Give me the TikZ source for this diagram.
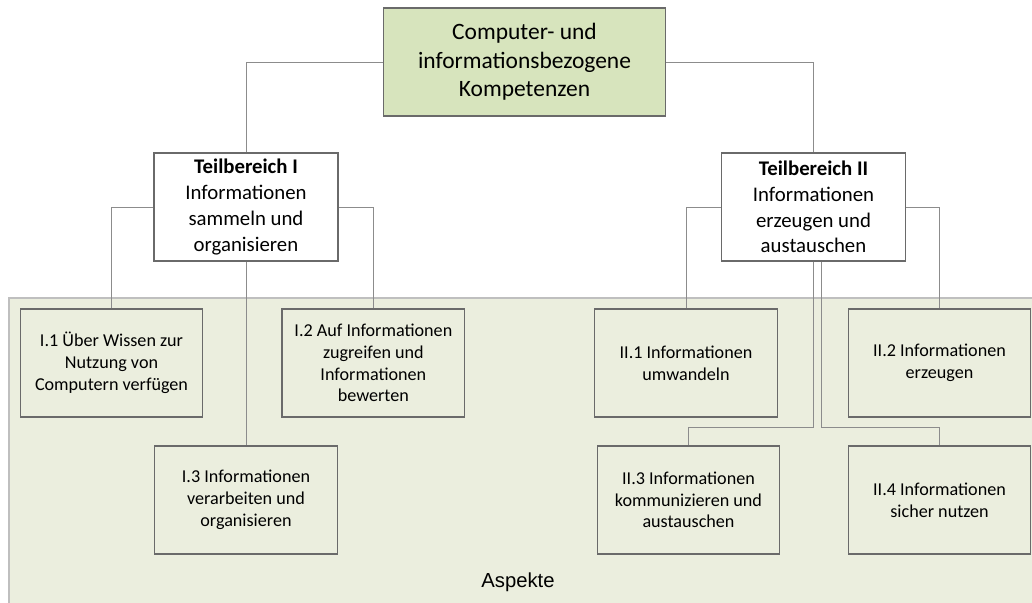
\documentclass[tikz,border=0pt]{standalone}
\usepackage{fontspec}
\setmainfont{Carlito}
\newfontfamily\arialfont{Liberation Sans}
\usetikzlibrary{positioning}
\definecolor{kompgreen}{HTML}{D7E4BD}
\definecolor{aspektfill}{HTML}{EBEEDE}
\definecolor{aspektrand}{HTML}{BFBFBF}
\definecolor{boxrand}{HTML}{6A6A6A}
\definecolor{linkgray}{HTML}{8C8C8C}

\begin{document}
\begin{tikzpicture}[x=0.75pt,y=-0.75pt,
  root/.style={draw=boxrand,fill=kompgreen,line width=0.9pt,minimum width=212pt,minimum height=81pt,align=center,font=\fontsize{17.6}{21.5}\selectfont},
  area/.style={draw=boxrand,fill=white,line width=0.9pt,minimum width=138pt,minimum height=81pt,align=center,font=\fontsize{15.6}{19.3}\selectfont},
  aspect/.style={draw=boxrand,line width=0.9pt,minimum width=137pt,minimum height=81pt,align=center,font=\fontsize{13.6}{16.3}\selectfont},
  link/.style={draw=linkgray,line width=0.7pt}
]
\clip (0,0) rectangle (1032,603);
% Aspekte-Feld
\draw[draw=aspektrand,fill=aspektfill,line width=2.2pt] (9,298) rectangle (1050,620);
\node[font=\arialfont\fontsize{15.2}{18}\selectfont] (aspekte) at (518,582) {Aspekte};

\node[root] (kompetenz) at (524.5,62) {Computer- und\\informationsbezogene\\Kompetenzen};
\node[area] (teil1) at (246,207) {\textbf{Teilbereich I}\\Informationen\\sammeln und\\organisieren};
\node[area] (teil2) at (813.5,207) {\textbf{Teilbereich II}\\Informationen\\erzeugen und\\austauschen};

\node[aspect] (wissen) at (111.5,363) {I.1 Über Wissen zur\\Nutzung von\\Computern verfügen};
\node[aspect,right=58.5pt of wissen] (zugreifen) {I.2 Auf Informationen\\zugreifen und\\Informationen\\bewerten};
\node[aspect] (verarbeiten) at (246,500) {I.3 Informationen\\verarbeiten und\\organisieren};
\node[aspect] (umwandeln) at (686,363) {II.1 Informationen\\umwandeln};
\node[aspect] (erzeugen) at (939.5,363) {II.2 Informationen\\erzeugen};
\node[aspect] (kommunizieren) at (688.5,500) {II.3 Informationen\\kommunizieren und\\austauschen};
\node[aspect] (sicher) at (939.5,500) {II.4 Informationen\\sicher nutzen};

\draw[link] (kompetenz.west) -| (teil1.north);
\draw[link] (kompetenz.east) -| (teil2.north);
\draw[link] (teil1.west) -| (wissen.north);
\draw[link] (teil1.east) -| (zugreifen.north);
\draw[link] (teil1.south) -- (verarbeiten.north);
\draw[link] (teil2.west) -| (umwandeln.north);
\draw[link] (teil2.east) -| (erzeugen.north);
\draw[link] (teil2.south) |- ([yshift=13.5pt]kommunizieren.north) -- (kommunizieren.north);
\draw[link] ([xshift=6pt]teil2.south) |- ([yshift=13.5pt]sicher.north) -- (sicher.north);
\end{tikzpicture}
\end{document}
